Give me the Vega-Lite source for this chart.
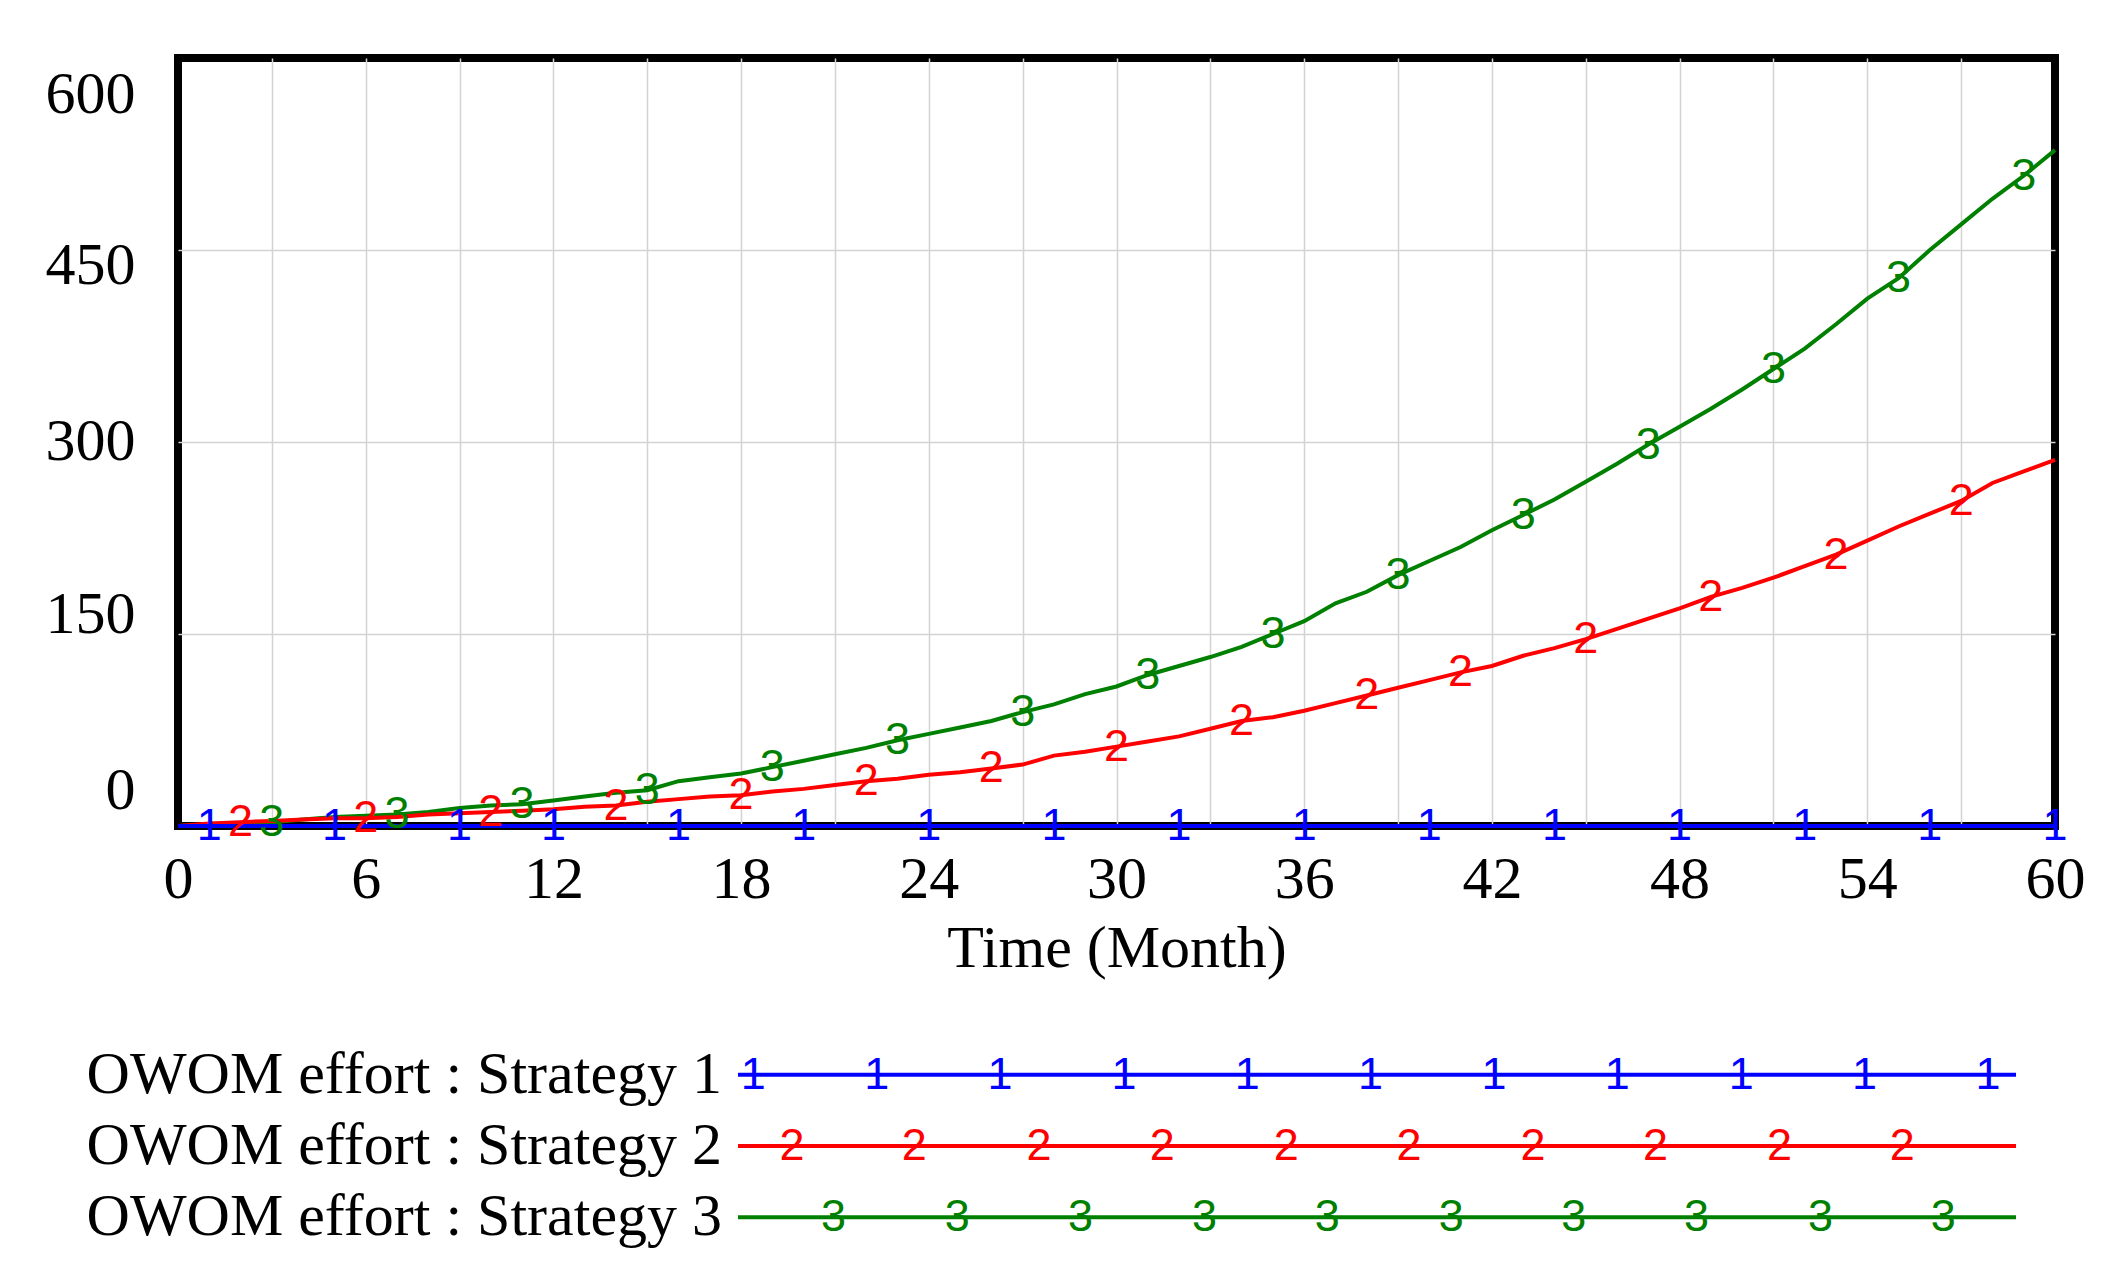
{
  "$schema": "https://vega.github.io/schema/vega-lite/v6.json",
  "background": "white",
  "padding": {"left": 41, "top": 54, "right": 5, "bottom": 5},
  "bounds": "flush",
  "spacing": 213,
  "datasets": {
    "owom": [
      {"t":0,"s1":0,"s2":0,"s3":0,"m1":0,"m2":0,"m3":0},
      {"t":1,"s1":0,"s2":2,"s3":1,"m1":1,"m2":0,"m3":0},
      {"t":2,"s1":0,"s2":3,"s3":2,"m1":0,"m2":1,"m3":0},
      {"t":3,"s1":0,"s2":4,"s3":3,"m1":0,"m2":0,"m3":1},
      {"t":4,"s1":0,"s2":5,"s3":5,"m1":0,"m2":0,"m3":0},
      {"t":5,"s1":0,"s2":6,"s3":7,"m1":1,"m2":0,"m3":0},
      {"t":6,"s1":0,"s2":6,"s3":8,"m1":0,"m2":1,"m3":0},
      {"t":7,"s1":0,"s2":7,"s3":9,"m1":0,"m2":0,"m3":1},
      {"t":8,"s1":0,"s2":9,"s3":11,"m1":0,"m2":0,"m3":0},
      {"t":9,"s1":0,"s2":10,"s3":14,"m1":1,"m2":0,"m3":0},
      {"t":10,"s1":0,"s2":11,"s3":16,"m1":0,"m2":1,"m3":0},
      {"t":11,"s1":0,"s2":12,"s3":17,"m1":0,"m2":0,"m3":1},
      {"t":12,"s1":0,"s2":13,"s3":20,"m1":1,"m2":0,"m3":0},
      {"t":13,"s1":0,"s2":15,"s3":23,"m1":0,"m2":0,"m3":0},
      {"t":14,"s1":0,"s2":16,"s3":26,"m1":0,"m2":1,"m3":0},
      {"t":15,"s1":0,"s2":19,"s3":28,"m1":0,"m2":0,"m3":1},
      {"t":16,"s1":0,"s2":21,"s3":35,"m1":1,"m2":0,"m3":0},
      {"t":17,"s1":0,"s2":23,"s3":38,"m1":0,"m2":0,"m3":0},
      {"t":18,"s1":0,"s2":24,"s3":41,"m1":0,"m2":1,"m3":0},
      {"t":19,"s1":0,"s2":27,"s3":46,"m1":0,"m2":0,"m3":1},
      {"t":20,"s1":0,"s2":29,"s3":51,"m1":1,"m2":0,"m3":0},
      {"t":21,"s1":0,"s2":32,"s3":56,"m1":0,"m2":0,"m3":0},
      {"t":22,"s1":0,"s2":35,"s3":61,"m1":0,"m2":1,"m3":0},
      {"t":23,"s1":0,"s2":37,"s3":67,"m1":0,"m2":0,"m3":1},
      {"t":24,"s1":0,"s2":40,"s3":72,"m1":1,"m2":0,"m3":0},
      {"t":25,"s1":0,"s2":42,"s3":77,"m1":0,"m2":0,"m3":0},
      {"t":26,"s1":0,"s2":45,"s3":82,"m1":0,"m2":1,"m3":0},
      {"t":27,"s1":0,"s2":48,"s3":89,"m1":0,"m2":0,"m3":1},
      {"t":28,"s1":0,"s2":55,"s3":95,"m1":1,"m2":0,"m3":0},
      {"t":29,"s1":0,"s2":58,"s3":103,"m1":0,"m2":0,"m3":0},
      {"t":30,"s1":0,"s2":62,"s3":109,"m1":0,"m2":1,"m3":0},
      {"t":31,"s1":0,"s2":66,"s3":118,"m1":0,"m2":0,"m3":1},
      {"t":32,"s1":0,"s2":70,"s3":125,"m1":1,"m2":0,"m3":0},
      {"t":33,"s1":0,"s2":76,"s3":132,"m1":0,"m2":0,"m3":0},
      {"t":34,"s1":0,"s2":82,"s3":140,"m1":0,"m2":1,"m3":0},
      {"t":35,"s1":0,"s2":85,"s3":150,"m1":0,"m2":0,"m3":1},
      {"t":36,"s1":0,"s2":90,"s3":160,"m1":1,"m2":0,"m3":0},
      {"t":37,"s1":0,"s2":96,"s3":174,"m1":0,"m2":0,"m3":0},
      {"t":38,"s1":0,"s2":102,"s3":183,"m1":0,"m2":1,"m3":0},
      {"t":39,"s1":0,"s2":108,"s3":196,"m1":0,"m2":0,"m3":1},
      {"t":40,"s1":0,"s2":114,"s3":207,"m1":1,"m2":0,"m3":0},
      {"t":41,"s1":0,"s2":120,"s3":218,"m1":0,"m2":1,"m3":0},
      {"t":42,"s1":0,"s2":125,"s3":231,"m1":0,"m2":0,"m3":0},
      {"t":43,"s1":0,"s2":133,"s3":243,"m1":0,"m2":0,"m3":1},
      {"t":44,"s1":0,"s2":139,"s3":255,"m1":1,"m2":0,"m3":0},
      {"t":45,"s1":0,"s2":146,"s3":269,"m1":0,"m2":1,"m3":0},
      {"t":46,"s1":0,"s2":154,"s3":283,"m1":0,"m2":0,"m3":0},
      {"t":47,"s1":0,"s2":162,"s3":298,"m1":0,"m2":0,"m3":1},
      {"t":48,"s1":0,"s2":170,"s3":312,"m1":1,"m2":0,"m3":0},
      {"t":49,"s1":0,"s2":179,"s3":326,"m1":0,"m2":1,"m3":0},
      {"t":50,"s1":0,"s2":186,"s3":341,"m1":0,"m2":0,"m3":0},
      {"t":51,"s1":0,"s2":194,"s3":357,"m1":0,"m2":0,"m3":1},
      {"t":52,"s1":0,"s2":203,"s3":373,"m1":1,"m2":0,"m3":0},
      {"t":53,"s1":0,"s2":212,"s3":392,"m1":0,"m2":1,"m3":0},
      {"t":54,"s1":0,"s2":223,"s3":412,"m1":0,"m2":0,"m3":0},
      {"t":55,"s1":0,"s2":234,"s3":428,"m1":0,"m2":0,"m3":1},
      {"t":56,"s1":0,"s2":244,"s3":450,"m1":1,"m2":0,"m3":0},
      {"t":57,"s1":0,"s2":254,"s3":470,"m1":0,"m2":1,"m3":0},
      {"t":58,"s1":0,"s2":268,"s3":490,"m1":0,"m2":0,"m3":0},
      {"t":59,"s1":0,"s2":277,"s3":508,"m1":0,"m2":0,"m3":1},
      {"t":60,"s1":0,"s2":286,"s3":528,"m1":1,"m2":0,"m3":0}
    ],
    "legendRows": [
      {"row": "OWOM effort : Strategy 1", "s": "1"},
      {"row": "OWOM effort : Strategy 2", "s": "2"},
      {"row": "OWOM effort : Strategy 3", "s": "3"}
    ],
    "legendMarks": [
      {"row": "OWOM effort : Strategy 1", "s": "1", "pos": 1.2},
      {"row": "OWOM effort : Strategy 1", "s": "1", "pos": 10.85},
      {"row": "OWOM effort : Strategy 1", "s": "1", "pos": 20.5},
      {"row": "OWOM effort : Strategy 1", "s": "1", "pos": 30.2},
      {"row": "OWOM effort : Strategy 1", "s": "1", "pos": 39.85},
      {"row": "OWOM effort : Strategy 1", "s": "1", "pos": 49.5},
      {"row": "OWOM effort : Strategy 1", "s": "1", "pos": 59.15},
      {"row": "OWOM effort : Strategy 1", "s": "1", "pos": 68.8},
      {"row": "OWOM effort : Strategy 1", "s": "1", "pos": 78.5},
      {"row": "OWOM effort : Strategy 1", "s": "1", "pos": 88.15},
      {"row": "OWOM effort : Strategy 1", "s": "1", "pos": 97.8},
      {"row": "OWOM effort : Strategy 2", "s": "2", "pos": 4.23},
      {"row": "OWOM effort : Strategy 2", "s": "2", "pos": 13.8},
      {"row": "OWOM effort : Strategy 2", "s": "2", "pos": 23.55},
      {"row": "OWOM effort : Strategy 2", "s": "2", "pos": 33.2},
      {"row": "OWOM effort : Strategy 2", "s": "2", "pos": 42.9},
      {"row": "OWOM effort : Strategy 2", "s": "2", "pos": 52.5},
      {"row": "OWOM effort : Strategy 2", "s": "2", "pos": 62.2},
      {"row": "OWOM effort : Strategy 2", "s": "2", "pos": 71.8},
      {"row": "OWOM effort : Strategy 2", "s": "2", "pos": 81.5},
      {"row": "OWOM effort : Strategy 2", "s": "2", "pos": 91.1},
      {"row": "OWOM effort : Strategy 3", "s": "3", "pos": 7.48},
      {"row": "OWOM effort : Strategy 3", "s": "3", "pos": 17.16},
      {"row": "OWOM effort : Strategy 3", "s": "3", "pos": 26.8},
      {"row": "OWOM effort : Strategy 3", "s": "3", "pos": 36.5},
      {"row": "OWOM effort : Strategy 3", "s": "3", "pos": 46.1},
      {"row": "OWOM effort : Strategy 3", "s": "3", "pos": 55.8},
      {"row": "OWOM effort : Strategy 3", "s": "3", "pos": 65.4},
      {"row": "OWOM effort : Strategy 3", "s": "3", "pos": 75.0},
      {"row": "OWOM effort : Strategy 3", "s": "3", "pos": 84.7},
      {"row": "OWOM effort : Strategy 3", "s": "3", "pos": 94.3}
    ]
  },
  "vconcat": [
    {
      "width": 1877,
      "height": 768,
      "view": {"stroke": "black", "strokeWidth": 8, "fill": "white"},
      "data": {"name": "owom"},
      "transform": [{"fold": ["s1", "s2", "s3"], "as": ["series", "v"]}],
      "encoding": {
        "x": {
          "field": "t", "type": "quantitative",
          "scale": {"domain": [0, 60], "nice": false, "zero": false},
          "axis": {
            "values": [0,3,6,9,12,15,18,21,24,27,30,33,36,39,42,45,48,51,54,57,60],
            "labelExpr": "datum.value % 6 == 0 ? datum.label : ''",
            "grid": true, "gridColor": "#d3d3d3", "gridWidth": 1.5,
            "gridOpacity": {"condition": {"test": "datum.value == 0 || datum.value == 60", "value": 0}, "value": 1},
            "ticks": false, "tickSize": 0, "domain": false,
            "labelFont": "Liberation Serif", "labelFontSize": 60, "labelColor": "black",
            "labelPadding": 24, "labelFlush": false, "labelOverlap": false,
            "title": "Time (Month)", "titleFont": "Liberation Serif", "titleFontSize": 60,
            "titleFontWeight": "normal", "titleColor": "black", "titlePadding": 10
          }
        },
        "y": {
          "field": "v", "type": "quantitative",
          "scale": {"domain": [0, 600], "nice": false},
          "axis": {
            "values": [0, 150, 300, 450, 600],
            "grid": true, "gridColor": "#d3d3d3", "gridWidth": 1.5,
            "gridOpacity": {"condition": {"test": "datum.value == 0 || datum.value == 600", "value": 0}, "value": 1},
            "ticks": false, "tickSize": 0, "domain": false,
            "labelFont": "Liberation Serif", "labelFontSize": 60, "labelColor": "black",
            "labelPadding": 43, "labelFlush": false, "labelOverlap": false,
            "labelOffset": {
              "condition": [
                {"test": "datum.value == 600", "value": 36},
                {"test": "datum.value == 450", "value": 15},
                {"test": "datum.value == 150", "value": -20},
                {"test": "datum.value == 0", "value": -36}
              ],
              "value": -1
            },
            "title": null
          }
        }
      },
      "layer": [
        {"transform": [{"filter": "datum.series == 's3'"}], "mark": {"type": "line", "color": "#008000", "strokeWidth": 4}, "encoding": {}},
        {"transform": [{"filter": "datum.series == 's2'"}], "mark": {"type": "line", "color": "#ff0000", "strokeWidth": 4}, "encoding": {}},
        {"transform": [{"filter": "datum.series == 's1'"}], "mark": {"type": "line", "color": "#0000ff", "strokeWidth": 4}, "encoding": {}},
        {"transform": [{"filter": "datum.series == 's3' && datum.m3 == 1"}], "mark": {"type": "text", "text": "3", "color": "#008000", "font": "Liberation Sans", "fontSize": 45, "baseline": "middle", "align": "center"}, "encoding": {}},
        {"transform": [{"filter": "datum.series == 's2' && datum.m2 == 1"}], "mark": {"type": "text", "text": "2", "color": "#ff0000", "font": "Liberation Sans", "fontSize": 45, "baseline": "middle", "align": "center"}, "encoding": {}},
        {"transform": [{"filter": "datum.series == 's1' && datum.m1 == 1"}], "mark": {"type": "text", "text": "1", "color": "#0000ff", "font": "Liberation Sans", "fontSize": 45, "baseline": "middle", "align": "center"}, "encoding": {}}
      ]
    },
    {
      "width": 1877,
      "height": 214,
      "view": {"stroke": null},
      "layer": [
        {
          "data": {"name": "legendRows"},
          "mark": {"type": "rule", "strokeWidth": 4},
          "encoding": {
            "x": {"datum": 0, "type": "quantitative", "scale": {"domain": [-43.82, 103.05], "nice": false, "zero": false}, "axis": null},
            "x2": {"datum": 100},
            "y": {"field": "row", "type": "ordinal", "scale": {"type": "point", "padding": 0.5}, "axis": null},
            "color": {"field": "s", "type": "nominal", "scale": {"domain": ["1", "2", "3"], "range": ["#0000ff", "#ff0000", "#008000"]}, "legend": null}
          }
        },
        {
          "data": {"name": "legendRows"},
          "mark": {"type": "text", "align": "right", "baseline": "middle", "dx": -16, "font": "Liberation Serif", "fontSize": 60, "color": "black"},
          "encoding": {
            "x": {"datum": 0, "type": "quantitative"},
            "y": {"field": "row", "type": "ordinal"},
            "text": {"field": "row"}
          }
        },
        {
          "data": {"name": "legendMarks"},
          "mark": {"type": "text", "align": "center", "baseline": "middle", "font": "Liberation Sans", "fontSize": 45},
          "encoding": {
            "x": {"field": "pos", "type": "quantitative"},
            "y": {"field": "row", "type": "ordinal"},
            "text": {"field": "s"},
            "color": {"field": "s", "type": "nominal"}
          }
        }
      ]
    }
  ]
}
